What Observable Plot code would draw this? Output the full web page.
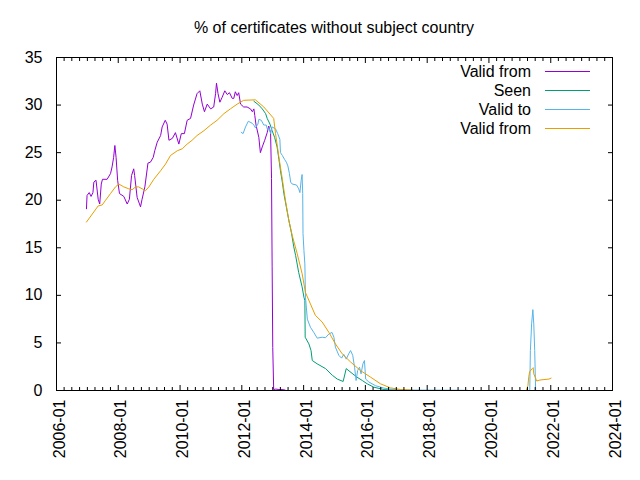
<!DOCTYPE html>
<html><head><meta charset="utf-8">
<script src="https://cdn.jsdelivr.net/npm/d3@7"></script>
<script src="https://cdn.jsdelivr.net/npm/@observablehq/plot@0.6"></script>
<style>
body{margin:0;background:#fff;font-family:"Liberation Sans",Arial,sans-serif;}
#wrap{position:relative;width:640px;height:480px;background:#fff;}
#title{height:40px;box-sizing:border-box;padding:20px 28px 0 56px;text-align:center;font-size:16px;line-height:16px;color:#000;white-space:nowrap;}
#legend{position:absolute;left:0;top:0;pointer-events:none;}
</style></head><body>
<div id="wrap">
<div id="title">% of certificates without subject country</div>
<div id="chart"></div>
<svg id="legend" width="640" height="480"></svg>
</div>
<script>
// ---- data (dates as decimal years, values in %) ----
const validFromDates = [
 2006.97,2006.99,2007.06,2007.12,2007.18,2007.21,2007.28,2007.35,2007.40,2007.45,
 2007.49,2007.64,2007.75,2007.80,2007.85,2007.89,2007.93,2007.98,2008.04,2008.18,
 2008.29,2008.36,2008.43,2008.50,2008.53,2008.61,2008.72,2008.77,2008.86,2008.96,
 2009.04,2009.13,2009.18,2009.26,2009.37,2009.42,2009.52,2009.58,2009.64,2009.75,
 2009.85,2009.96,2010.04,2010.14,2010.23,2010.34,2010.44,2010.55,2010.64,2010.72,
 2010.79,2010.88,2010.99,2011.09,2011.15,2011.18,2011.23,2011.29,2011.36,2011.45,
 2011.53,2011.60,2011.69,2011.74,2011.79,2011.85,2011.90,2011.96,2012.06,2012.17,
 2012.28,2012.34,2012.39,2012.42,2012.46,2012.55,2012.60,2012.66,2012.74,2012.82,
 2012.87,2012.93,2012.96,2012.98,2013.00,2013.03,2013.10,2013.20,2013.30,2013.40];
const validFromValues = [
 19.1,20.5,20.8,20.4,20.8,21.9,22.1,20.1,19.6,21.7,
 22.2,22.2,22.8,23.5,24.5,25.75,24.5,22.1,20.7,20.4,
 19.6,20.1,22.6,23.3,22.6,20.3,19.3,20.1,21.4,23.9,
 24.0,24.5,25.2,26.1,26.8,27.7,28.4,28.0,26.3,26.5,
 27.1,25.9,27.0,27.0,28.4,28.6,30.0,31.2,31.5,30.1,
 29.3,30.1,29.6,29.8,31.2,32.3,31.2,30.3,30.8,31.5,
 31.1,31.3,30.7,30.7,31.4,31.0,31.3,30.1,29.8,29.8,
 29.6,29.3,29.6,28.9,27.9,26.6,25.0,25.6,26.3,27.1,
 27.8,27.1,22.3,13.0,4.5,0.1,0.15,0.1,0.1,0.05];

const seenDates = [
 2012.39,2012.55,2012.66,2012.77,2012.82,2012.91,2012.98,2013.06,2013.14,2013.20,
 2013.25,2013.31,2013.36,2013.44,2013.52,2013.61,2013.68,2013.74,2013.84,2013.95,
 2014.01,2014.04,2014.05,2014.17,2014.24,2014.28,2014.44,2014.71,2014.93,2015.09,
 2015.28,2015.38,2015.57,2015.73,2015.90,2016.06,2016.27,2016.60,2016.92];
const seenValues = [
 30.4,30.0,29.6,29.1,28.6,28.0,27.3,26.6,25.6,24.3,
 23.1,21.9,20.7,19.3,17.9,16.5,15.1,14.2,12.4,10.9,
 9.8,9.45,5.6,4.9,4.2,3.15,2.8,2.3,1.6,1.2,
 0.95,2.3,1.8,1.4,1.05,0.7,0.35,0.1,0.05];

const validToDates = [
 2011.98,2012.04,2012.12,2012.21,2012.33,2012.39,2012.44,2012.52,2012.55,2012.63,
 2012.71,2012.79,2012.82,2012.88,2012.93,2012.98,2013.09,2013.16,2013.23,2013.25,
 2013.31,2013.38,2013.44,2013.49,2013.54,2013.58,2013.63,2013.77,2013.84,2013.88,
 2013.92,2013.95,2013.97,2013.98,2014.01,2014.04,2014.06,2014.12,2014.22,2014.33,
 2014.44,2014.60,2014.71,2014.82,2014.92,2014.98,2015.03,2015.14,2015.23,2015.30,
 2015.38,2015.46,2015.52,2015.59,2015.65,2015.70,2015.75,2015.81,2015.86,2015.92,
 2015.97,2016.01,2016.11,2016.33,2016.60,2016.92,2017.35,2019.31,null,
 2021.32,2021.34,2021.38,2021.42,2021.45,2021.48,2021.51];
const validToValues = [
 27.15,27.0,27.7,28.3,28.1,27.9,27.6,28.0,28.5,28.4,
 27.9,27.9,27.5,27.6,27.0,27.7,27.5,27.0,26.4,25.0,
 24.7,24.3,24.0,23.6,22.8,21.9,21.7,21.6,21.2,20.8,
 22.1,22.7,20.7,16.5,14.7,13.3,9.8,7.5,6.65,6.1,
 5.5,5.6,5.55,5.95,6.1,5.6,4.55,3.7,3.4,3.8,
 3.3,3.85,4.2,3.7,2.45,1.05,2.1,2.45,1.75,2.8,
 3.15,1.2,0.9,0.5,0.25,0.1,0.05,0.02,null,
 0,4.2,7.0,8.5,7.0,4.2,0];

const validFrom2Dates = [
 2006.97,2007.35,2007.48,2007.59,2007.75,2007.91,2008.02,2008.18,2008.34,2008.45,
 2008.56,2008.66,2008.77,2008.88,2008.99,2009.15,2009.37,2009.53,2009.69,2009.91,
 2010.07,2010.23,2010.39,2010.55,2010.77,2010.99,2011.20,2011.42,2011.63,2011.85,
 2012.06,2012.44,2012.71,2013.03,2013.09,2013.20,2013.31,2013.41,2013.52,2013.63,
 2013.79,2013.95,2014.06,2014.22,2014.38,2014.60,2014.82,2015.03,2015.25,2015.52,
 2015.84,2016.17,2016.49,2016.81,2017.14,2017.52,null,
 2021.21,2021.26,2021.29,2021.32,2021.40,2021.43,2021.45,2021.51,2021.54,2021.65,
 2021.78,2021.94,2022.01];
const validFrom2Values = [
 17.7,19.4,19.5,20.0,20.7,21.4,21.7,21.4,21.2,21.1,
 21.4,21.4,21.2,21.0,21.4,22.2,23.1,23.8,24.7,25.2,
 25.4,25.9,26.3,26.8,27.3,27.9,28.4,29.1,29.6,30.1,
 30.5,30.55,29.8,28.6,27.0,24.5,22.2,20.0,17.9,16.3,
 14.4,12.3,10.3,9.1,7.9,7.2,6.1,4.9,3.85,3.0,
 2.1,1.4,0.7,0.28,0.1,0.05,null,
 0.05,0.5,1.5,2.0,2.3,2.4,1.75,1.3,1.0,1.1,
 1.15,1.2,1.3];

const seriesNames = ["Valid from", "Seen", "Valid to", "Valid from"];
const seriesColors = ["#9400d3", "#009e73", "#56b4e9", "#e69f00"];
const xTickLabels = ["2006-01","2008-01","2010-01","2012-01","2014-01","2016-01","2018-01","2020-01","2022-01","2024-01"];
const yTicks = [0,5,10,15,20,25,30,35];

// ---- helpers ----
function toDate(y) {
  if (y == null) return null;
  const yr = Math.floor(y);
  const s = Date.UTC(yr, 0, 1), e = Date.UTC(yr + 1, 0, 1);
  return new Date(s + (y - yr) * (e - s));
}
function rows(dates, values) {
  return dates.map((d, i) => ({date: toDate(d), value: values[i] == null ? NaN : values[i]}));
}
const series = [
  rows(validFromDates, validFromValues),
  rows(seenDates, seenValues),
  rows(validToDates, validToValues),
  rows(validFrom2Dates, validFrom2Values)
];
const xTickDates = xTickLabels.map(s => new Date(s + "-01T00:00:00Z"));
const xDomain = [xTickDates[0], xTickDates[xTickDates.length - 1]];
const minorDates = d3.utcMonth.every(3).range(xDomain[0], new Date(+xDomain[1] + 1)).filter(d => d.getUTCMonth() !== 0 || d.getUTCFullYear() % 2 !== 0);
const blank = () => "";

const chart = Plot.plot({
  width: 640,
  height: 440,
  marginTop: 17,
  marginBottom: 90,
  marginLeft: 56,
  marginRight: 28,
  style: {fontFamily: "Liberation Sans, Arial, sans-serif", fontSize: "16px", color: "#000", background: "#fff"},
  x: {type: "utc", domain: xDomain},
  y: {domain: [0, 35]},
  marks: [
    // lines
    ...series.map((data, i) => Plot.line(data, {x: "date", y: "value", stroke: seriesColors[i], strokeWidth: 1})),
    // frame
    Plot.frame({stroke: "#000", strokeWidth: 1}),
    // y labels and inward ticks
    Plot.axisY(yTicks, {anchor: "left", tickSize: 0, tickPadding: 14, label: null, fontSize: 16}),
    Plot.axisY(yTicks, {anchor: "left", tickSize: -5, tickFormat: blank, label: null}),
    Plot.axisY(yTicks, {anchor: "right", tickSize: -5, tickFormat: blank, label: null}),
    // x labels and inward ticks
    Plot.axisX(xTickDates, {anchor: "bottom", tickSize: 0, tickPadding: 9, tickRotate: -90, tickFormat: d3.utcFormat("%Y-%m"), label: null, fontSize: 16, dx: 3}),
    Plot.axisX(xTickDates, {anchor: "bottom", tickSize: -5, tickFormat: blank, label: null}),
    Plot.axisX(xTickDates, {anchor: "top", tickSize: -5, tickFormat: blank, label: null}),
    Plot.axisX(minorDates, {anchor: "bottom", tickSize: -3, tickFormat: blank, label: null}),
    Plot.axisX(minorDates, {anchor: "top", tickSize: -3, tickFormat: blank, label: null})
  ]
});
document.getElementById("chart").appendChild(chart);

// ---- legend (top right, gnuplot style) ----
const leg = d3.select("#legend");
seriesNames.forEach((name, i) => {
  const y = 71 + i * 19;
  leg.append("text").attr("x", 531).attr("y", y + 5.5).attr("text-anchor", "end")
    .attr("font-family", "Liberation Sans, Arial, sans-serif").attr("font-size", 16).attr("fill", "#000").text(name);
  leg.append("line").attr("x1", 545).attr("x2", 590).attr("y1", y + 0.5).attr("y2", y + 0.5)
    .attr("stroke", seriesColors[i]).attr("stroke-width", 1);
});
</script>
</body></html>
